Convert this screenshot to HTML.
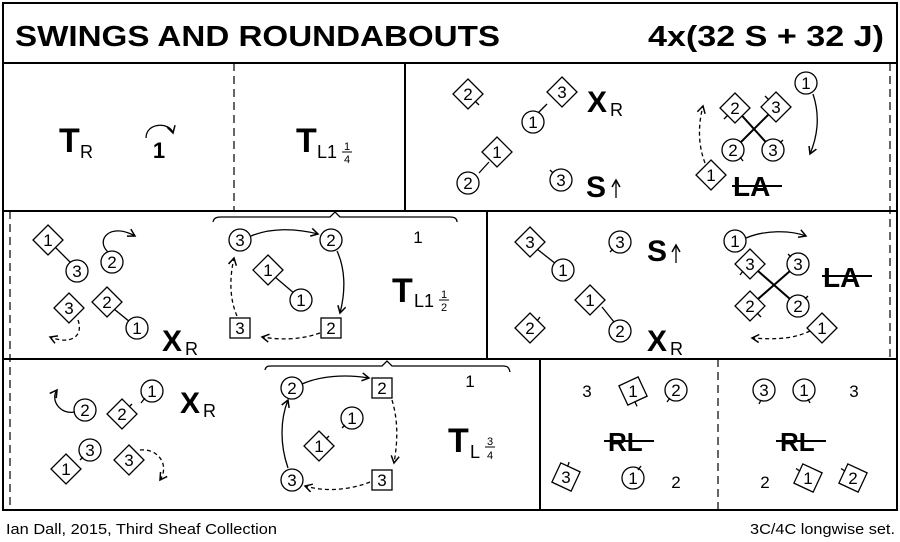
<!DOCTYPE html>
<html><head><meta charset="utf-8"><style>
html,body{margin:0;padding:0;background:#fff}
svg{display:block}
text{font-family:"Liberation Sans",sans-serif}
</style></head><body>
<svg width="900" height="542" viewBox="0 0 900 542" xmlns="http://www.w3.org/2000/svg">
<defs>
<marker id="ah" markerWidth="10" markerHeight="10" refX="8" refY="5" orient="auto" markerUnits="userSpaceOnUse"><path d="M1,1 L8,5 L1,9" fill="none" stroke="#000" stroke-width="1.5"/></marker>
</defs>
<g fill="none" stroke="#000" stroke-width="2">
<rect x="3" y="3" width="894" height="507"/>
<line x1="3" y1="63" x2="897" y2="63"/>
<line x1="3" y1="211" x2="897" y2="211"/>
<line x1="3" y1="359" x2="897" y2="359"/>
<line x1="405" y1="63" x2="405" y2="211"/>
<line x1="487" y1="211" x2="487" y2="359"/>
<line x1="540" y1="359" x2="540" y2="510"/>
</g>
<g fill="none" stroke="#000" stroke-width="1.2" stroke-dasharray="8,5">
<line x1="234" y1="63" x2="234" y2="211"/>
<line x1="890" y1="63" x2="890" y2="359"/>
<line x1="10" y1="211" x2="10" y2="510"/>
<line x1="718" y1="359" x2="718" y2="510"/>
</g>
<text x="15" y="46" font-size="29" font-weight="bold" textLength="485" lengthAdjust="spacingAndGlyphs">SWINGS AND ROUNDABOUTS</text>
<text x="648" y="46" font-size="29" font-weight="bold" textLength="236" lengthAdjust="spacingAndGlyphs">4x(32 S + 32 J)</text>
<text x="6" y="534" font-size="15" textLength="271" lengthAdjust="spacingAndGlyphs">Ian Dall, 2015, Third Sheaf Collection</text>
<text x="750" y="534" font-size="15" textLength="145" lengthAdjust="spacingAndGlyphs">3C/4C longwise set.</text>

<g font-size="17" text-anchor="middle" fill="#000">
<text x="159" y="158" font-size="22" font-weight="bold">1</text>
<path d="M146,138 C146,122 170,122 173,133" fill="none" stroke="#000" stroke-width="1.3" marker-end="url(#ah)"/>

<g stroke="#000" stroke-width="1.3" fill="#fff">
<g transform="translate(468,94)"><polygon points="0,-15 15,0 0,15 -15,0"/><line x1="7" y1="7" x2="11" y2="11"/></g>
<line x1="547" y1="104" x2="538" y2="113"/>
<g transform="translate(562,92)"><polygon points="0,-15 15,0 0,15 -15,0"/></g>
<g transform="translate(533,122)"><circle r="11"/></g>
<line x1="489" y1="162" x2="479" y2="173"/>
<g transform="translate(497,152)"><polygon points="0,-15 15,0 0,15 -15,0"/></g>
<g transform="translate(468,183)"><circle r="11"/></g>
<g transform="translate(561,180)"><circle r="11"/><line x1="-8" y1="-7" x2="-11" y2="-10"/></g>
<line x1="735" y1="108" x2="773" y2="150" stroke-width="2"/>
<line x1="776" y1="107" x2="733" y2="150" stroke-width="2"/>
<g transform="translate(735,108)"><polygon points="0,-15 15,0 0,15 -15,0"/><line x1="-7" y1="7" x2="-11" y2="11"/></g>
<g transform="translate(776,107)"><polygon points="0,-15 15,0 0,15 -15,0"/><line x1="-7" y1="-7" x2="-11" y2="-11"/></g>
<g transform="translate(733,150)"><circle r="11"/><line x1="7" y1="7" x2="10" y2="11"/></g>
<g transform="translate(773,150)"><circle r="11"/><line x1="7" y1="-7" x2="10" y2="-10"/></g>
<g transform="translate(806,83)"><circle r="11"/></g>
<g transform="translate(711,175)"><polygon points="0,-15 15,0 0,15 -15,0"/></g>

<line x1="55" y1="247" x2="70" y2="262"/>
<g transform="translate(48,240)"><polygon points="0,-15 15,0 0,15 -15,0"/></g>
<g transform="translate(77,271)"><circle r="11"/></g>
<g transform="translate(112,262)"><circle r="11"/></g>
<line x1="114" y1="309" x2="130" y2="322"/>
<g transform="translate(69,308)"><polygon points="0,-15 15,0 0,15 -15,0"/></g>
<g transform="translate(107,302)"><polygon points="0,-15 15,0 0,15 -15,0"/></g>
<g transform="translate(137,328)"><circle r="11"/></g>
<line x1="275" y1="277" x2="295" y2="294"/>
<g transform="translate(240,240)"><circle r="11"/></g>
<g transform="translate(331,240)"><circle r="11"/></g>
<g transform="translate(268,270)"><polygon points="0,-15 15,0 0,15 -15,0"/></g>
<g transform="translate(301,300)"><circle r="11"/></g>
<rect x="230" y="318" width="20" height="20"/>
<rect x="321" y="318" width="20" height="20"/>

<line x1="537" y1="249" x2="556" y2="264"/>
<g transform="translate(530,242)"><polygon points="0,-15 15,0 0,15 -15,0"/></g>
<g transform="translate(620,242)"><circle r="11"/><line x1="-7" y1="7" x2="-10" y2="10"/></g>
<g transform="translate(563,270)"><circle r="11"/></g>
<line x1="602" y1="307" x2="614" y2="322"/>
<g transform="translate(590,300)"><polygon points="0,-15 15,0 0,15 -15,0"/></g>
<g transform="translate(530,328)"><polygon points="0,-15 15,0 0,15 -15,0"/><line x1="7" y1="-7" x2="10" y2="-11"/></g>
<g transform="translate(620,331)"><circle r="11"/></g>
<g transform="translate(735,241)"><circle r="11"/></g>
<line x1="750" y1="264" x2="798" y2="306" stroke-width="2"/>
<line x1="798" y1="264" x2="750" y2="306" stroke-width="2"/>
<g transform="translate(750,264)"><polygon points="0,-15 15,0 0,15 -15,0"/><line x1="-7" y1="7" x2="-10" y2="11"/></g>
<g transform="translate(798,264)"><circle r="11"/><line x1="-7" y1="-7" x2="-10" y2="-10"/></g>
<g transform="translate(750,306)"><polygon points="0,-15 15,0 0,15 -15,0"/><line x1="7" y1="7" x2="11" y2="11"/></g>
<g transform="translate(798,306)"><circle r="11"/><line x1="7" y1="-7" x2="10" y2="-10"/></g>
<g transform="translate(822,328)"><polygon points="0,-15 15,0 0,15 -15,0"/></g>

<g transform="translate(152,391)"><circle r="11"/><line x1="-7" y1="7" x2="-11" y2="12"/></g>
<g transform="translate(85,410)"><circle r="11"/></g>
<g transform="translate(122,414)"><polygon points="0,-15 15,0 0,15 -15,0"/><line x1="7" y1="-7" x2="10" y2="-10"/></g>
<g transform="translate(90,450)"><circle r="11"/><line x1="-7" y1="7" x2="-10" y2="10"/></g>
<g transform="translate(66,469)"><polygon points="0,-15 15,0 0,15 -15,0"/></g>
<g transform="translate(129,460)"><polygon points="0,-15 15,0 0,15 -15,0"/></g>
<g transform="translate(292,388)"><circle r="11"/></g>
<rect x="372" y="378" width="20" height="20"/>
<g transform="translate(352,418)"><circle r="11"/><line x1="-7" y1="7" x2="-10" y2="10"/></g>
<g transform="translate(319,446)"><polygon points="0,-15 15,0 0,15 -15,0"/><line x1="7" y1="-7" x2="10" y2="-10"/></g>
<rect x="372" y="470" width="20" height="20"/>
<g transform="translate(292,480)"><circle r="11"/></g>

<g transform="translate(633,391) rotate(20)"><polygon points="0,-15 15,0 0,15 -15,0"/><line x1="5" y1="9" x2="9" y2="13"/></g>
<g transform="translate(676,390)"><circle r="11"/><line x1="-6" y1="8" x2="-9" y2="12"/></g>
<g transform="translate(566,477) rotate(-20)"><polygon points="0,-15 15,0 0,15 -15,0"/><line x1="5" y1="-9" x2="8" y2="-13"/></g>
<g transform="translate(633,478)"><circle r="11"/><line x1="5" y1="-8" x2="8" y2="-12"/></g>
<g transform="translate(764,390)"><circle r="11"/><line x1="-3" y1="10" x2="-5" y2="14"/></g>
<g transform="translate(804,390)"><circle r="11"/><line x1="4" y1="9" x2="6" y2="13"/></g>
<g transform="translate(808,478) rotate(-20)"><polygon points="0,-15 15,0 0,15 -15,0"/><line x1="-5" y1="-9" x2="-8" y2="-13"/></g>
<g transform="translate(853,478) rotate(-20)"><polygon points="0,-15 15,0 0,15 -15,0"/><line x1="-5" y1="-9" x2="-8" y2="-13"/></g>
</g>

<text x="468" y="100">2</text><text x="562" y="98">3</text><text x="533" y="128">1</text><text x="497" y="158">1</text><text x="468" y="189">2</text><text x="561" y="186">3</text>
<text x="735" y="114">2</text><text x="776" y="113">3</text><text x="733" y="156">2</text><text x="773" y="156">3</text><text x="806" y="89">1</text><text x="711" y="181">1</text>
<text x="48" y="246">1</text><text x="77" y="277">3</text><text x="112" y="268">2</text><text x="69" y="314">3</text><text x="107" y="308">2</text><text x="137" y="334">1</text>
<text x="240" y="246">3</text><text x="331" y="246">2</text><text x="268" y="276">1</text><text x="301" y="306">1</text><text x="240" y="334">3</text><text x="331" y="334">2</text>
<text x="530" y="248">3</text><text x="620" y="248">3</text><text x="563" y="276">1</text><text x="590" y="306">1</text><text x="530" y="334">2</text><text x="620" y="337">2</text>
<text x="735" y="247">1</text><text x="750" y="270">3</text><text x="798" y="270">3</text><text x="750" y="312">2</text><text x="798" y="312">2</text><text x="822" y="334">1</text>
<text x="152" y="397">1</text><text x="85" y="416">2</text><text x="122" y="420">2</text><text x="90" y="456">3</text><text x="66" y="475">1</text><text x="129" y="466">3</text>
<text x="292" y="394">2</text><text x="382" y="394">2</text><text x="352" y="424">1</text><text x="319" y="452">1</text><text x="382" y="486">3</text><text x="292" y="486">3</text>
<text x="587" y="397">3</text><text x="633" y="397">1</text><text x="676" y="396">2</text><text x="566" y="483">3</text><text x="633" y="484">1</text><text x="676" y="488">2</text>
<text x="764" y="396">3</text><text x="804" y="396">1</text><text x="854" y="397">3</text><text x="765" y="488">2</text><text x="808" y="484">1</text><text x="853" y="484">2</text>
<text x="418" y="243">1</text><text x="470" y="387">1</text>
<text x="347" y="150" font-size="11">1</text><line x1="342" y1="152" x2="352" y2="152" stroke="#000"/><text x="347" y="163" font-size="11">4</text>
<text x="444" y="298" font-size="11">1</text><line x1="439" y1="300" x2="449" y2="300" stroke="#000"/><text x="444" y="311" font-size="11">2</text>
<text x="490" y="445" font-size="11">3</text><line x1="485" y1="447" x2="495" y2="447" stroke="#000"/><text x="490" y="459" font-size="11">4</text>
</g>

<g text-anchor="start" fill="#000">
<text x="59" y="152" font-size="34" font-weight="bold">T</text><text x="80" y="158" font-size="18">R</text>
<text x="296" y="152" font-size="34" font-weight="bold">T</text><text x="317" y="158" font-size="18">L1</text>
<text x="587" y="112" font-size="30" font-weight="bold">X</text><text x="610" y="116" font-size="18">R</text>
<text x="586" y="197" font-size="30" font-weight="bold">S</text>
<text x="733" y="196" font-size="28" font-weight="bold">LA</text>
<text x="162" y="351" font-size="30" font-weight="bold">X</text><text x="185" y="355" font-size="18">R</text>
<text x="392" y="302" font-size="34" font-weight="bold">T</text><text x="414" y="307" font-size="18">L1</text>
<text x="647" y="261" font-size="30" font-weight="bold">S</text>
<text x="647" y="351" font-size="30" font-weight="bold">X</text><text x="670" y="355" font-size="18">R</text>
<text x="823" y="287" font-size="28" font-weight="bold">LA</text>
<text x="180" y="413" font-size="30" font-weight="bold">X</text><text x="203" y="417" font-size="18">R</text>
<text x="448" y="452" font-size="34" font-weight="bold">T</text><text x="470" y="458" font-size="18">L</text>
<text x="608" y="451" font-size="26" font-weight="bold">RL</text>
<text x="780" y="451" font-size="26" font-weight="bold">RL</text>
</g>

<g fill="none" stroke="#000" stroke-width="1.3">
<line x1="616" y1="198" x2="616" y2="180" marker-end="url(#ah)"/>
<line x1="676" y1="263" x2="676" y2="245" marker-end="url(#ah)"/>
<line x1="732" y1="186" x2="782" y2="186" stroke-width="2"/>
<line x1="822" y1="276" x2="872" y2="276" stroke-width="2"/>
<line x1="604" y1="441" x2="654" y2="441" stroke-width="2"/>
<line x1="776" y1="441" x2="826" y2="441" stroke-width="2"/>
<path d="M813,94 C820,115 818,135 810,154" marker-end="url(#ah)"/>
<path d="M705,163 C698,145 698,125 703,106" stroke-dasharray="4,3" marker-end="url(#ah)"/>
<path d="M108,252 C95,240 110,222 135,236" marker-end="url(#ah)"/>
<path d="M78,320 C84,337 70,345 50,337" stroke-dasharray="4,3" marker-end="url(#ah)"/>
<path d="M213,222 C214,217 218,217 222,217 L330,217 L335,212 L340,217 L450,217 C454,217 457,218 457,222"/>
<path d="M251,236 C270,228 295,228 318,234" marker-end="url(#ah)"/>
<path d="M337,251 C345,268 346,290 340,313" marker-end="url(#ah)"/>
<path d="M320,333 C300,340 280,340 262,337" stroke-dasharray="4,3" marker-end="url(#ah)"/>
<path d="M237,316 C230,300 229,280 234,258" stroke-dasharray="4,3" marker-end="url(#ah)"/>
<path d="M746,238 C765,230 790,230 806,236" marker-end="url(#ah)"/>
<path d="M810,331 C795,338 780,340 752,338" stroke-dasharray="4,3" marker-end="url(#ah)"/>
<path d="M75,412 C60,415 50,400 57,390" marker-end="url(#ah)"/>
<path d="M140,450 C158,448 170,465 160,480" stroke-dasharray="4,3" marker-end="url(#ah)"/>
<path d="M265,370 C266,366 268,366 272,366 L382,366 L387,361 L392,366 L503,366 C507,366 509,367 510,372"/>
<path d="M302,384 C320,376 345,374 369,378" marker-end="url(#ah)"/>
<path d="M288,468 C280,445 280,420 288,400" marker-end="url(#ah)"/>
<path d="M392,400 C398,420 398,440 394,463" stroke-dasharray="4,3" marker-end="url(#ah)"/>
<path d="M370,482 C350,490 325,492 305,486" stroke-dasharray="4,3" marker-end="url(#ah)"/>
</g>
</svg>
</body></html>
